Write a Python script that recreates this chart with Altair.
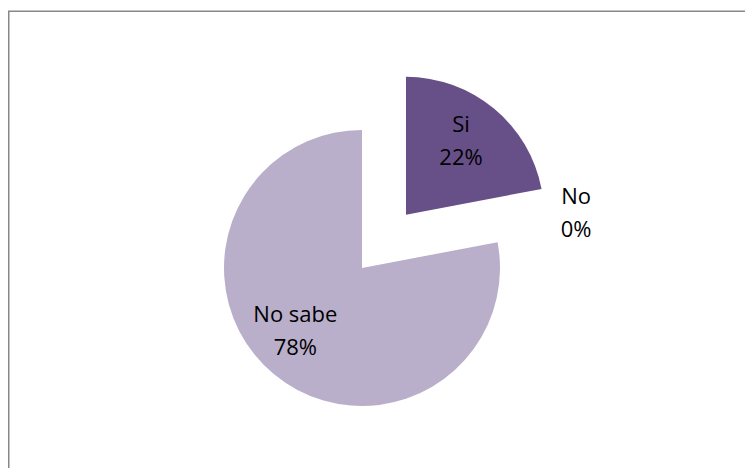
import altair as alt
import pandas as pd
import math

categories = ["Si", "No", "No sabe"]
values = [22, 0, 78]
colors = ["#674F87", "#674F87", "#B9AFCA"]

df = pd.DataFrame({"cat": categories, "val": values, "order": [0, 1, 2]})

W, H = 745, 468
CX, CY = 362, 268
R = 138
EXP = 69  # explosion distance of "Si"
mid_si = 0.22 * 2 * math.pi / 2
EX = CX + EXP * math.sin(mid_si)
EY = CY - EXP * math.cos(mid_si)

base = alt.Chart(df).transform_window(
    cum="sum(val)", sort=[alt.SortField("order")], frame=[None, 0]
).transform_calculate(
    start="datum.cum - datum.val",
    end="datum.cum",
    mid="datum.cum - datum.val/2",
    label="datum.cat + '\\n' + datum.val + '%'",
)

theta_scale = alt.Scale(domain=[0, 100], range=[0, 2 * math.pi])
color_scale = alt.Scale(domain=categories, range=colors)

border = alt.Chart(df).mark_rect(
    fill=None, stroke="#878787", strokeWidth=1.5
).encode(
    x=alt.value(8.75), y=alt.value(11.25), x2=alt.value(W + 20), y2=alt.value(H + 20)
).transform_filter("datum.order == 0")

arc_rest = base.transform_filter("datum.cat == 'No sabe'").mark_arc(
    outerRadius=R
).encode(
    theta=alt.Theta("start:Q", scale=theta_scale, stack=None),
    theta2="end:Q",
    color=alt.Color("cat:N", scale=color_scale, legend=None),
    x=alt.value(CX), y=alt.value(CY),
)

arc_si = base.transform_filter("datum.cat == 'Si'").mark_arc(
    outerRadius=R
).encode(
    theta=alt.Theta("start:Q", scale=theta_scale, stack=None),
    theta2="end:Q",
    color=alt.Color("cat:N", scale=color_scale, legend=None),
    x=alt.value(EX), y=alt.value(EY),
)

font = "Open Sans"
fs = 22
lh = 33

txt_si = base.transform_filter("datum.cat == 'Si'").mark_text(
    radius=91, dx=-3, dy=-20, font=font, fontSize=fs, lineBreak="\n", lineHeight=lh, color="#000000"
).encode(
    theta=alt.Theta("mid:Q", scale=theta_scale, stack=None),
    text="label:N",
    x=alt.value(EX), y=alt.value(EY),
)

txt_no = base.transform_filter("datum.cat == 'No'").mark_text(
    radius=218, dy=-30, font=font, fontSize=fs, lineBreak="\n", lineHeight=lh, color="#000000"
).encode(
    theta=alt.Theta("mid:Q", scale=theta_scale, stack=None),
    text="label:N",
    x=alt.value(CX), y=alt.value(CY),
)

txt_ns = base.transform_filter("datum.cat == 'No sabe'").mark_text(
    radius=92, dx=-8, dy=-24, font=font, fontSize=fs, lineBreak="\n", lineHeight=lh, color="#000000"
).encode(
    theta=alt.Theta("mid:Q", scale=theta_scale, stack=None),
    text="label:N",
    x=alt.value(CX), y=alt.value(CY),
)

chart = alt.layer(border, arc_rest, arc_si, txt_si, txt_no, txt_ns).properties(
    width=W, height=H, padding=0, autosize="none"
).configure_view(stroke=None).resolve_scale(theta="shared")

chart.save("out.html", embed_options={"renderer": "svg", "actions": False})
